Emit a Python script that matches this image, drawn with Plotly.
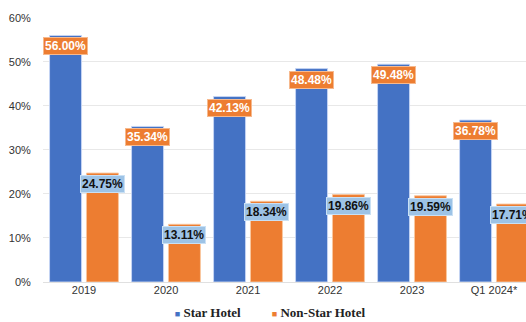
import plotly.graph_objects as go

categories = ["2019", "2020", "2021", "2022", "2023", "Q1 2024*"]
star_hotel = [56.00, 35.34, 42.13, 48.48, 49.48, 36.78]
non_star_hotel = [24.75, 13.11, 18.34, 19.86, 19.59, 17.71]
y_ticks = [0, 10, 20, 30, 40, 50, 60]

BLUE = "#4472C4"
ORANGE = "#ED7D31"
LABEL_BLUE = "#9DC3E6"

fig = go.Figure()
fig.add_trace(go.Bar(
    x=categories, y=star_hotel, name="Star Hotel", showlegend=False,
    width=0.39, offset=-0.42,
    marker=dict(color=BLUE, line=dict(color="rgba(200,215,245,0.9)", width=1)),
    hoverinfo="skip",
))
fig.add_trace(go.Bar(
    x=categories, y=non_star_hotel, name="Non-Star Hotel", showlegend=False,
    width=0.39, offset=0.03,
    marker=dict(color=ORANGE, line=dict(color="rgba(250,200,160,0.9)", width=1)),
    hoverinfo="skip",
))
# legend entries
for nm, col in [("Star Hotel", BLUE), ("Non-Star Hotel", ORANGE), ("", "white")]:
    fig.add_trace(go.Scatter(
        x=[None], y=[None], mode="markers", showlegend=True,
        name=(f'<span style="color:{col};font-size:9px">■</span> <b>{nm}</b>' if nm else " "),
        marker=dict(size=1, color="rgba(0,0,0,0)", line=dict(width=0)),
    ))

annotations = []
for i, v in enumerate(star_hotel):
    annotations.append(dict(
        x=i, y=v, xref="x", yref="y", text=f"<b>{v:.2f}%</b>", showarrow=False,
        xshift=-18.5, yshift=-11, bgcolor=ORANGE, bordercolor="#F6B98E",
        borderwidth=1, borderpad=1,
        font=dict(family="Liberation Sans, Arial", size=12, color="white"),
    ))
for i, v in enumerate(non_star_hotel):
    annotations.append(dict(
        x=i, y=v, xref="x", yref="y", text=f"<b>{v:.2f}%</b>", showarrow=False,
        xshift=18, yshift=-11, bgcolor=LABEL_BLUE, bordercolor="#C9E0F4",
        borderwidth=1, borderpad=1,
        font=dict(family="Liberation Sans, Arial", size=12, color="#111111"),
    ))

fig.update_layout(
    width=526, height=322,
    margin=dict(l=43, r=0, t=17, b=40, autoexpand=False),
    paper_bgcolor="white", plot_bgcolor="white",
    barmode="overlay",
    annotations=annotations,
    font=dict(family="Liberation Sans, Arial", size=11, color="#333333"),
    legend=dict(
        orientation="h", x=0.19, xanchor="left",
        yref="container", y=0.03, yanchor="middle",
        font=dict(family="Liberation Serif, Times New Roman", size=13, color="#222222"),
        itemwidth=30, entrywidth=52, bgcolor="rgba(0,0,0,0)",
        itemclick=False, itemdoubleclick=False,
    ),
    xaxis=dict(
        type="category", range=[-0.5, 5.39], showgrid=False, showline=False,
        ticks="", tickfont=dict(size=11, color="#333333"),
        fixedrange=True,
    ),
    yaxis=dict(
        range=[0, 60.2], tickvals=y_ticks, ticktext=[f"{t}%" for t in y_ticks],
        showgrid=True, gridcolor="#E8E8E8", gridwidth=1, zeroline=True,
        zerolinecolor="#E0E0E0", zerolinewidth=1, showline=False,
        ticks="outside", ticklen=9, tickcolor="rgba(0,0,0,0)",
        tickfont=dict(size=11, color="#333333"), fixedrange=True,
    ),
)

fig.write_html("out.html")
